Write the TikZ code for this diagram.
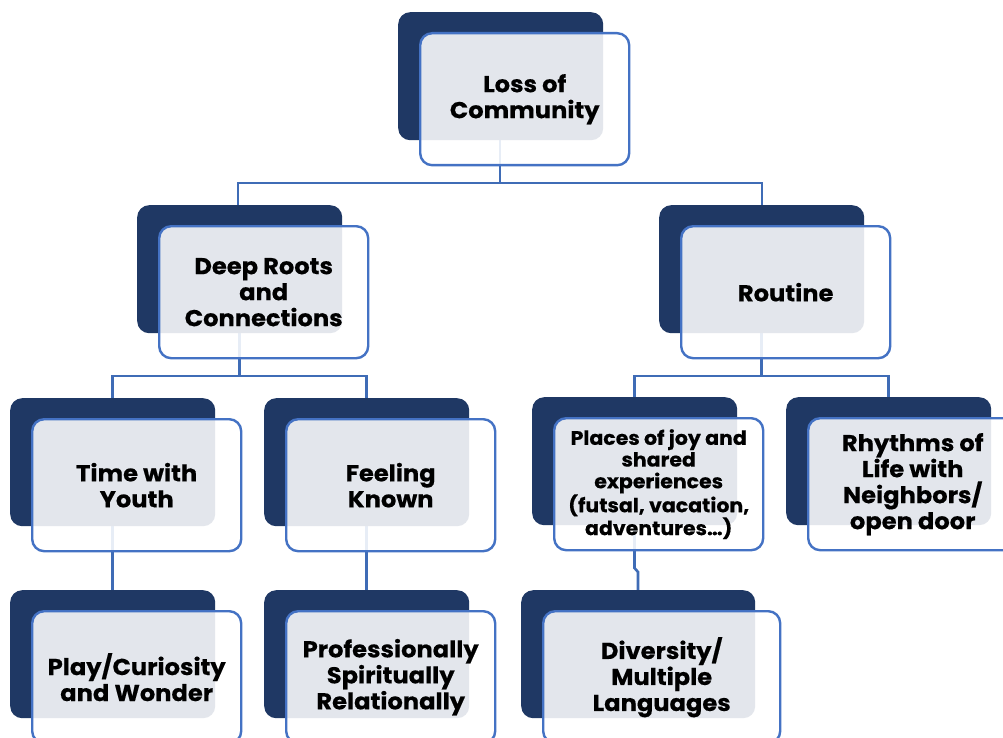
\documentclass[tikz,border=0pt]{standalone}
\usepackage{fontspec}
\usetikzlibrary{calc}
\newfontfamily\labelfont{Poppins}[FakeStretch=1.05, BoldFeatures={FakeBold=0.4}]
\definecolor{navy}{HTML}{1F3864}
\definecolor{edgeblue}{HTML}{4472C4}
\definecolor{linkblue}{HTML}{3F6CB6}

\tikzset{
  darkbox/.style={fill=navy, rounded corners=12pt, inner sep=0pt,
    minimum height=128pt},
  frontbox/.style={fill=white, fill opacity=0.88, draw=edgeblue, draw opacity=1,
    line width=2.4pt, rounded corners=12pt, inner sep=0pt, minimum height=132pt},
  link/.style={draw=linkblue, line width=2.6pt},
  txt/.style={font=\labelfont\bfseries\fontsize{23}{26}\selectfont, align=center,
    inner sep=0pt, text=black},
  smalltxt/.style={font=\labelfont\bfseries\fontsize{19.5}{21.7}\selectfont, align=center,
    inner sep=0pt, text=black}
}

% #1 name, #2,#3 top-left of the dark card, #4 dark width, #5 front width
\newcommand\cardback[5]{%
  \node[darkbox, minimum width=#4pt, anchor=north west] (#1-back) at (#2,#3) {};
  \node[frontbox, minimum width=#5pt, anchor=north west] (#1) at ($(#1-back.north west)+(21,20)$) {};
}

\begin{document}
\begin{tikzpicture}[x=1pt, y=-1pt]
  \useasboundingbox (0,0) rectangle (1003,738);
  \fill[white] (0,0) rectangle (1003,738);
  \clip (0,0) rectangle (1003,738);

  % branch points of the tree
  \coordinate (barA) at (500,183);
  \coordinate (barB) at (239.5,376);
  \coordinate (barC) at (761.5,376);
  \coordinate (jogA) at (634.5,568);
  \coordinate (jogB) at (638,572);

  % connectors (drawn first so the cards cover them)
  \draw[link] (500,140) -- (barA);
  \draw[link] (238,205) |- (barA) -| (762,205);
  \draw[link] (239.5,333) -- (barB);
  \draw[link] (112.5,398) |- (barB) -| (366.5,398);
  \draw[link] (761.5,333) -- (barC);
  \draw[link] (634.5,398) |- (barC) -| (888.5,398);
  \draw[link] (112.5,526) -- (112.5,590);
  \draw[link] (366.5,526) -- (366.5,590);
  \draw[link] (634.5,526) -- (jogA) -- (jogB) -- (638,590);

  % cards
  \cardback{loss}{398}{12}{205}{209}
  \cardback{roots}{137}{205}{205}{209}
  \cardback{routine}{659}{205}{205}{209}
  \cardback{youth}{10}{398}{205}{209}
  \cardback{known}{264}{398}{205}{209}
  \cardback{places}{532}{397}{205}{209}
  \cardback{rhythms}{786}{397}{205}{209}
  \cardback{play}{10}{590}{205}{209}
  \cardback{prof}{264}{590}{205}{209}
  \cardback{diversity}{521}{590}{234}{237}

  % labels
  \node[txt] (loss-t) at (loss.center) {Loss of\\Community};
  \node[txt] (roots-t) at (roots.center) {Deep Roots\\and\\Connections};
  \node[txt] (routine-t) at (routine.center) {Routine};
  \node[txt] (youth-t) at (youth.center) {Time with\\Youth};
  \node[txt] (known-t) at (known.center) {Feeling\\Known};
  \node[smalltxt] (places-t) at (places.center) {Places of joy and\\shared\\experiences\\(futsal, vacation,\\adventures…)};
  \node[txt] (rhythms-t) at (rhythms.center) {Rhythms of\\Life with\\Neighbors/\\open door};
  \node[txt] (play-t) at (play.center) {Play/Curiosity\\and Wonder};
  \node[txt] (prof-t) at (prof.center) {Professionally\\Spiritually\\Relationally};
  \node[txt] (diversity-t) at (diversity.center) {Diversity/\\Multiple\\Languages};
\end{tikzpicture}
\end{document}
